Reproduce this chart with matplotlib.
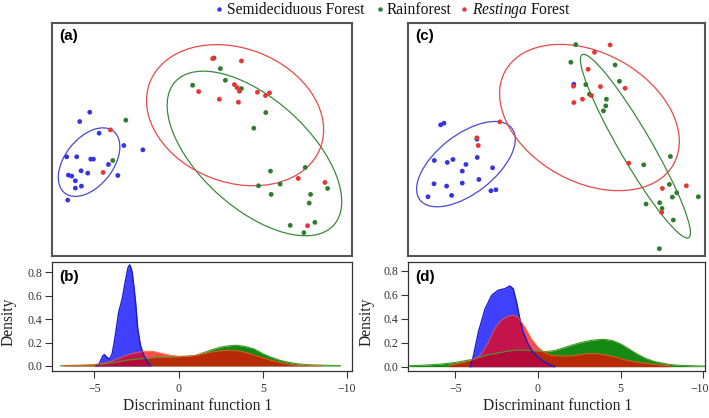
import matplotlib
matplotlib.use("Agg")
import matplotlib.pyplot as plt
from matplotlib.patches import Ellipse
from matplotlib.lines import Line2D
from matplotlib.transforms import ScaledTranslation

plt.rcParams['font.family'] = ['Liberation Serif', 'DejaVu Serif']
plt.rcParams['mathtext.fontset'] = 'custom'
plt.rcParams['mathtext.rm'] = 'Liberation Serif'
plt.rcParams['mathtext.it'] = 'Liberation Serif:italic'

W, H = 709, 418

# ---------------- data ----------------
groups = ["Semideciduous Forest", "Rainforest", "Restinga Forest"]
legend_labels = ["Semideciduous Forest", "Rainforest", r"$\mathit{Restinga}$ Forest"]
pt_colors = ["#3535e0", "#2e7d2e", "#e53535"]
ell_colors = ["#4848d8", "#3a8a3a", "#e84848"]

# panel (a) scatter (arbitrary discriminant-space units)
a_blue_x = [150, 120, 178, 252, 309, 81, 111, 153, 161, 206, 124, 144, 86, 96, 234, 107, 125, 107, 84]
a_blue_y = [276, 304, 339, 376, 389, 410, 410, 417, 417, 433, 452, 459, 465, 468, 466, 482, 498, 504, 540]
a_green_x = [258, 219, 522, 541, 556, 458, 604, 677, 641, 795, 691, 655, 720, 693, 811, 862, 807, 824, 750, 791]
a_green_y = [300, 421, 113, 145, 180, 195, 205, 277, 324, 442, 453, 497, 492, 523, 523, 505, 549, 607, 616, 638]
a_red_x = [212, 190, 518, 604, 476, 538, 583, 591, 598, 595, 652, 688, 676, 774, 854, 802]
a_red_y = [329, 457, 115, 122, 214, 237, 193, 202, 213, 246, 216, 218, 226, 475, 487, 617]
# ellipses: (cx, cy, width, height, angle)
a_ell_blue = (148, 426, 236, 144, -52)
a_ell_green = (643, 400, 641, 327, 42.3)
a_ell_red = (585, 285, 547, 402, 21.3)

# panel (c) scatter
c_blue_x = [241, 251, 350, 222, 261, 278, 351, 317, 306, 397, 221, 259, 306, 356, 274, 203, 392, 407, 641]
c_blue_y = [314, 309, 357, 421, 427, 418, 412, 433, 453, 443, 491, 498, 489, 478, 526, 530, 512, 509, 192]
c_green_x = [647, 632, 765, 677, 778, 688, 739, 737, 730, 931, 851, 928, 950, 937, 1015, 858, 899, 906, 940, 898]
c_green_y = [73, 126, 134, 193, 183, 222, 237, 257, 272, 409, 434, 493, 518, 531, 530, 552, 548, 565, 600, 686]
c_red_x = [350, 354, 419, 640, 641, 667, 684, 703, 750, 721, 694, 795, 806, 907, 979, 905]
c_red_y = [353, 376, 305, 198, 247, 237, 147, 96, 74, 199, 226, 204, 429, 505, 497, 577]
c_ell_blue = (317, 432, 350, 176, -38)
c_ell_green = (826, 378, 636, 96, 59.8)
c_ell_red = (688, 292, 578, 388, 28.8)

# panel (b) densities
b_blue_x = [-4.9, -4.7, -4.5, -4.4, -4.25, -4.1, -3.95, -3.84, -3.7, -3.55, -3.34, -3.15, -3.0, -2.9,
            -2.8, -2.75, -2.65, -2.55, -2.42, -2.26, -2.06, -1.85, -1.65]
b_blue_y = [0.0, 0.02, 0.085, 0.097, 0.075, 0.058, 0.10, 0.18, 0.31, 0.46, 0.575, 0.73, 0.84, 0.865,
            0.83, 0.80, 0.68, 0.547, 0.318, 0.177, 0.09, 0.035, 0.005]
b_green_x = [-7.0, -6.0, -5.0, -4.0, -3.0, -2.0, -1.0, 0.0, 1.0, 1.5, 2.0, 2.5, 3.0, 3.5, 4.0, 4.5,
             5.0, 5.5, 6.0, 6.5, 7.0, 7.5, 8.0, 9.0, 9.6]
b_green_y = [0.002, 0.004, 0.008, 0.025, 0.05, 0.065, 0.075, 0.078, 0.09, 0.115, 0.14, 0.162, 0.173,
             0.177, 0.165, 0.145, 0.105, 0.075, 0.05, 0.032, 0.02, 0.013, 0.009, 0.005, 0.003]
b_red_x = [-6.8, -6.0, -5.0, -4.5, -4.0, -3.5, -3.0, -2.5, -2.0, -1.5, -1.0, -0.5, 0.0, 0.5, 1.0,
           1.5, 2.0, 2.5, 3.0, 3.5, 4.0, 4.5, 5.0, 5.5, 6.0, 6.5, 7.0, 7.5, 8.5]
b_red_y = [0.004, 0.006, 0.012, 0.022, 0.04, 0.067, 0.095, 0.115, 0.125, 0.124, 0.108, 0.092, 0.083,
           0.082, 0.09, 0.105, 0.12, 0.13, 0.134, 0.13, 0.115, 0.092, 0.07, 0.048, 0.03, 0.015,
           0.006, 0.003, 0.001]

# panel (d) densities
d_blue_x = [-4.1, -3.95, -3.6, -3.2, -2.8, -2.4, -2.0, -1.7, -1.5, -1.3, -1.1, -0.9, -0.6, -0.3,
            0.0, 0.4, 0.8, 1.0]
d_blue_y = [0.0, 0.06, 0.29, 0.48, 0.595, 0.637, 0.65, 0.672, 0.65, 0.54, 0.40, 0.29, 0.19, 0.12,
            0.08, 0.04, 0.01, 0.0]
d_green_x = [-7.8, -7.0, -6.0, -5.0, -4.0, -3.0, -2.0, -1.3, -0.5, 0.0, 0.5, 1.0, 1.5, 2.0, 2.5,
             3.0, 3.5, 4.0, 4.5, 5.0, 5.5, 6.0, 6.5, 7.0, 7.5, 8.0, 8.5, 9.0, 9.5, 10.1]
d_green_y = [0.008, 0.012, 0.02, 0.035, 0.06, 0.10, 0.125, 0.14, 0.135, 0.13, 0.125, 0.135, 0.155,
             0.178, 0.198, 0.214, 0.224, 0.228, 0.218, 0.19, 0.148, 0.105, 0.07, 0.045, 0.03,
             0.018, 0.012, 0.009, 0.007, 0.005]
d_red_x = [-5.4, -5.0, -4.5, -4.0, -3.7, -3.4, -3.0, -2.6, -2.2, -1.8, -1.5, -1.2, -0.8, -0.4, 0.0,
           0.4, 0.8, 1.2, 2.0, 2.5, 3.0, 3.6, 4.2, 4.7, 5.2, 5.7, 6.2, 6.7, 7.2, 7.7, 8.0]
d_red_y = [0.01, 0.02, 0.035, 0.055, 0.07, 0.11, 0.205, 0.32, 0.39, 0.42, 0.428, 0.41, 0.33, 0.23,
           0.16, 0.117, 0.095, 0.09, 0.09, 0.10, 0.108, 0.108, 0.095, 0.08, 0.06, 0.045, 0.033,
           0.025, 0.016, 0.01, 0.005]

dens_xticks = [-5, 0, 5, 10]
dens_xticklabels = ["\u22125", "0", "5", "\u221210"]
dens_yticks = [0.0, 0.2, 0.4, 0.6, 0.8]
dens_yticklabels = ["0.0", "0.2", "0.4", "0.6", "0.8"]

# ---------------- figure ----------------
fig = plt.figure(figsize=(W / 100, H / 100), dpi=100)


def rect(l, t, r, b):
    return [l / W, 1 - b / H, (r - l) / W, (b - t) / H]


def scatter_panel(pos, xlim, pts, ells, label):
    ax = fig.add_axes(rect(*pos))
    ax.set_xlim(*xlim)
    ax.set_ylim(708, 8)
    for (cx, cy, w, h, ang), col in zip(ells, ell_colors):
        ax.add_patch(Ellipse((cx, cy), w, h, angle=ang, fill=False, edgecolor=col, lw=0.9))
    for (xs, ys), col in zip(pts, pt_colors):
        ax.scatter(xs, ys, s=12, color=col, edgecolors='none', zorder=3)
    ax.set_xticks([])
    ax.set_yticks([])
    for sp in ax.spines.values():
        sp.set_color('#555555')
        sp.set_linewidth(1.5)
    ax.text(0.025, 0.975, label, transform=ax.transAxes, ha='left', va='top',
            fontsize=11, fontweight='bold', family='Liberation Sans')
    return ax


def density_panel(pos, xlim, ylim, series, label):
    ax = fig.add_axes(rect(*pos))
    (gx, gy), (bx, by), (rx, ry) = series
    ax.fill_between(gx, 0, gy, color='#008000', alpha=0.92, lw=0)
    ax.plot(gx, gy, color='#4a9a2a', lw=0.8)
    ax.fill_between(bx, 0, by, color='#0000ff', alpha=0.75, lw=0)
    ax.plot(bx, by, color='#1a1acc', lw=1.0)
    ax.fill_between(rx, 0, ry, color='#ff0000', alpha=0.7, lw=0)
    ax.plot(rx, ry, color='#ff5522', lw=0.8, alpha=0.8)
    ax.set_xlim(*xlim)
    ax.set_ylim(*ylim)
    ax.set_xticks(dens_xticks)
    ax.set_xticklabels(dens_xticklabels)
    ax.set_yticks(dens_yticks)
    ax.set_yticklabels(dens_yticklabels)
    ax.tick_params(direction='out', length=5, width=0.8, color='#333333',
                   labelsize=8.5, labelcolor='#333333')
    ax.tick_params(axis='x', pad=4)
    ax.tick_params(axis='y', pad=2)
    for sp in ax.spines.values():
        sp.set_color('#333333')
        sp.set_linewidth(0.9)
    ax.text(0.025, 0.93, label, transform=ax.transAxes, ha='left', va='top',
            fontsize=11, fontweight='bold', family='Liberation Sans')
    return ax


scatter_panel((52, 23, 352, 256), (37, 935),
              [(a_blue_x, a_blue_y), (a_green_x, a_green_y), (a_red_x, a_red_y)],
              [a_ell_blue, a_ell_green, a_ell_red], "(a)")
scatter_panel((408, 23, 705, 256), (143, 1035),
              [(c_blue_x, c_blue_y), (c_green_x, c_green_y), (c_red_x, c_red_y)],
              [c_ell_blue, c_ell_green, c_ell_red], "(c)")

density_panel((52, 262, 351.7, 371), (-7.51, 10.28), (-0.043, 0.889),
              [(b_green_x, b_green_y), (b_blue_x, b_blue_y), (b_red_x, b_red_y)], "(b)")
axd = density_panel((408, 262, 705, 371), (-7.86, 10.1), (-0.036, 0.872),
                    [(d_green_x, d_green_y), (d_blue_x, d_blue_y), (d_red_x, d_red_y)], "(d)")
# keep the last tick label of (d) inside the image
lastlab = axd.get_xticklabels()[-1]
lastlab.set_transform(lastlab.get_transform() + ScaledTranslation(-4 / 100, 0, fig.dpi_scale_trans))

# axis labels
for cx in (197.5, 557.5):
    fig.text(cx / W, 1 - 409.5 / H, "Discriminant function 1", ha='center', va='baseline',
             fontsize=11.2, color='#222222')
for cx in (9, 367):
    fig.text(cx / W, 1 - 322 / H, "Density", ha='center', va='center', rotation=90,
             fontsize=11.2, color='#222222')

# legend
mk_x = [219.3, 380, 464.3]
tx_x = [226.7, 386.7, 471.7]
for mx, tx, col, lab in zip(mk_x, tx_x, pt_colors, legend_labels):
    fig.add_artist(Line2D([mx / W], [1 - 9 / H], marker='o', markersize=3.2, color=col,
                          markeredgewidth=0, transform=fig.transFigure))
    fig.text(tx / W, 1 - 13.5 / H, lab, ha='left', va='baseline', fontsize=11.2, color='#111111')

fig.savefig("out.png", dpi=100)
